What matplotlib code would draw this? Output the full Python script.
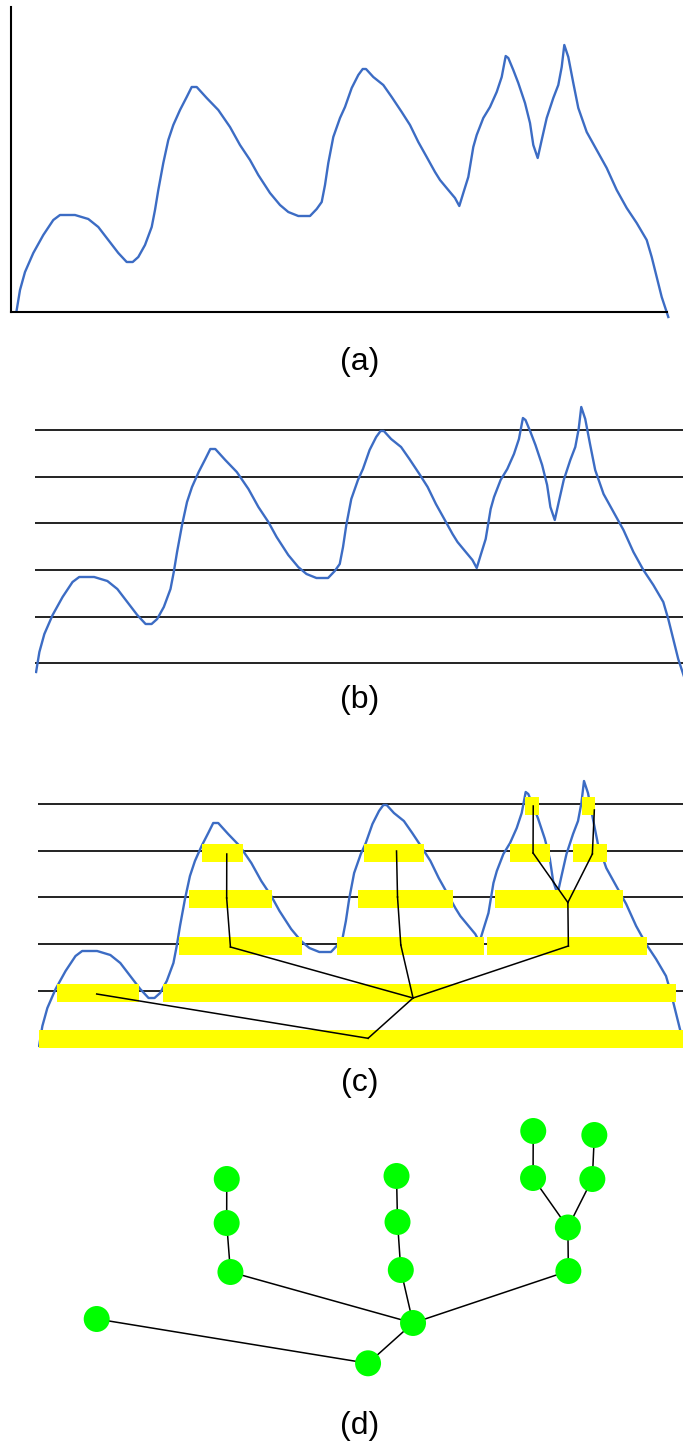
import matplotlib
matplotlib.use("Agg")
import matplotlib.pyplot as plt

plt.rcParams['font.family'] = ['Liberation Sans', 'DejaVu Sans']

# hand drawn signal: position along the axis and height above the baseline
curve_x = [16.7, 20, 25, 33.3, 43.3, 53.3, 60, 75, 88.3, 98.3,
           108.3, 118.3, 126.7, 132.7, 138.3, 145, 151.7, 155, 158.3, 163.3,
           168.3, 173.3, 180, 186.7, 191.7, 196.7, 206.7, 218.3, 230, 240,
           250, 258.3, 270, 280, 288.3, 298.3, 310, 316.7, 321.7, 325,
           328.3, 333.3, 340, 345, 351.7, 358.3, 362.7, 366, 373.3, 383.3,
           391.7, 401.7, 410, 418.3, 426.7, 435, 440, 448.3, 455, 459.3,
           463.3, 468.3, 473.3, 476.7, 483.3, 490, 496.7, 501.7, 505.7, 508.3,
           513.3, 518.3, 525, 530, 533.3, 537.7, 541.7, 546.7, 553.3, 558.3,
           561.7, 564.3, 568.3, 573.3, 578.3, 586.7, 596.7, 606.7, 616.7, 626.7,
           636.7, 646.7, 651.7, 656.7, 661.7, 668.3]
curve_h = [2, 22, 40, 59, 77, 92, 97, 97, 93, 85,
           72, 59, 50, 50, 55, 67, 85, 102, 122, 149,
           172, 187, 202, 215, 225, 225, 214, 202, 185, 167,
           152, 137, 119, 107, 100, 96, 96, 103, 110, 127,
           149, 175, 194, 205, 224, 237, 243, 243, 235, 227,
           215, 200, 187, 170, 155, 140, 132, 122, 114, 106,
           119, 135, 165, 177, 194, 205, 220, 235, 256, 254,
           242, 229, 209, 189, 167, 154, 172, 194, 214, 227,
           245, 267, 255, 229, 204, 180, 162, 144, 122, 104,
           89, 72, 55, 35, 15, -5]

# threshold levels of (b) and (c)
levels = [11, 57, 104, 151, 197, 244]

# yellow intervals of (c): level index, start, end
bar_level = [0, 1, 1, 2, 2, 2, 3, 3, 3, 4, 4, 4, 4, 5, 5]
bar_start = [17.0, 34.7, 141.2, 157.3, 316.1, 466.9, 166.9, 337.2, 474.8,
             180.4, 343.2, 490.0, 553.3, 505.0, 562.8]
bar_end = [670.0, 117.1, 656.3, 280.9, 463.8, 627.7, 250.3, 432.2, 604.0,
           221.6, 403.5, 530.2, 587.5, 519.1, 575.4]

# tree of the intervals, drawn in (c) and (d)
node_x = [347.3, 392.5, 74.6, 209.0, 205.2, 205.3, 380.2, 376.9, 375.9,
          548.6, 548.1, 513.1, 513.3, 572.7, 574.7]
node_h = [9.7, 50, 54, 101, 150, 194, 103, 151, 197,
          102, 145.5, 195, 242, 194, 238]
edges = [(0, 1), (0, 2), (1, 3), (3, 4), (4, 5), (1, 6), (6, 7), (7, 8),
         (1, 9), (9, 10), (10, 11), (11, 12), (10, 13), (13, 14)]

panel_labels = ["(a)", "(b)", "(c)", "(d)"]
label_y = [362, 700, 1083, 1426]

blue = "#3c6cc4"
W, H = 683, 1450
fig = plt.figure(figsize=(W / 100, H / 100), dpi=100)


def box(left, top, right, bottom):
    # axes placed by pixel box (origin top left)
    ax = fig.add_axes([left / W, 1 - bottom / H, (right - left) / W, (bottom - top) / H])
    ax.set_xticks([])
    ax.set_yticks([])
    for s in ax.spines.values():
        s.set_visible(False)
    ax.patch.set_alpha(0)
    return ax


# (a) raw signal with axes
ax = box(11, 7, 667, 312)
ax.set_xlim(11, 667)
ax.set_ylim(0, 305)
ax.spines['left'].set_visible(True)
ax.spines['bottom'].set_visible(True)
ax.spines['left'].set_linewidth(1.5)
ax.spines['bottom'].set_linewidth(1.5)
ax.plot(curve_x, curve_h, color=blue, lw=1.7, clip_on=False)

# (b) signal with level lines
ax = box(35, 394, 683, 686)
ax.set_xlim(15.6, 666.5)
ax.set_ylim(-12, 280)
ax.hlines(levels, 15.6, 666.5, color="#111111", lw=1.3, zorder=1)
ax.plot(curve_x, curve_h, color=blue, lw=1.7, zorder=2)

# (c) intervals above each level and their tree
ax = box(38.3, 770, 683, 1060)
ax.set_xlim(15.9, 663.8)
ax.set_ylim(-12, 278)
ax.hlines(levels[1:], 15.9, 663.8, color="#111111", lw=1.3, zorder=1)
ax.plot(curve_x, curve_h, color=blue, lw=1.7, zorder=2)
ax.barh([levels[i] - 2 for i in bar_level],
        [e - s for s, e in zip(bar_start, bar_end)],
        left=bar_start, height=17.5, color="#ffff00", zorder=3)
for a, b in edges:
    ax.plot([node_x[a], node_x[b]], [node_h[a], node_h[b]], color="black", lw=1.1, zorder=4)

# (d) the tree alone
ax = box(38.3, 1100, 683, 1400)
ax.set_xlim(15.9, 663.8)
ax.set_ylim(-27, 273)
for a, b in edges:
    ax.plot([node_x[a], node_x[b]], [node_h[a], node_h[b]], color="black", lw=1.1, zorder=1)
ax.scatter(node_x, node_h, s=350, color="#00ff00", edgecolors="none", zorder=2, clip_on=False)

for lab, y in zip(panel_labels, label_y):
    fig.text(360 / W, 1 - y / H, lab, fontsize=23, ha="center", va="center")

fig.savefig("out.png", dpi=100)
